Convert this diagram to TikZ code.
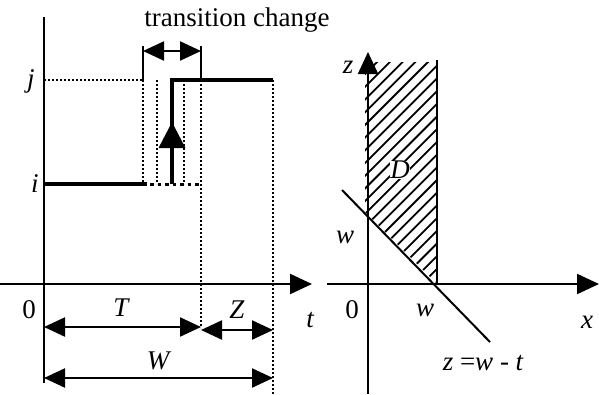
\documentclass[tikz,border=0pt]{standalone}
\usepackage{fontspec}
\setmainfont{Liberation Serif}
\usetikzlibrary{arrows.meta}
\begin{document}
\begin{tikzpicture}[x=1pt,y=-1pt,
  lbl/.style={font=\fontsize{27}{32}\selectfont, inner sep=1pt},
  axis/.style={line width=2.2pt},
  big/.style={-{Triangle[length=22pt,width=20pt]}},
  dbl/.style={{Triangle[length=21pt,width=19pt]}-{Triangle[length=21pt,width=19pt]}, line width=2.2pt},
  dots/.style={line width=2pt, dash pattern=on 2pt off 2pt},
  thickln/.style={line width=4pt}]
\useasboundingbox (0,0) rectangle (599,394);
% ---------------- left diagram ----------------
\coordinate (o) at (44,284);
\coordinate (ytop) at (44,17);
\coordinate (ybot) at (44,383);
\coordinate (tl) at (0,284);
\coordinate (tr) at (312,284);
\draw[axis] (ytop) -- (ybot);
\draw[axis,big] (tl) -- (tr);
% levels
\coordinate (i0) at (44,184);
\coordinate (i1) at (147,184);
\coordinate (i2) at (150,184);
\coordinate (i3) at (201,184);
\coordinate (j0) at (44,80);
\coordinate (j1) at (143,80);
\coordinate (s0) at (172,184);
\coordinate (s1) at (172,80);
\coordinate (s2) at (273,80);
\draw[thickln] (i0) -- (i1);
\draw[dots, line width=3pt, dash pattern=on 3.5pt off 4pt] (i2) -- (i3);
\draw[dots] (j0) -- (j1);
\draw[thickln] (s0) -- (s1) -- (s2);
% up arrow
\coordinate (ab) at (172,150);
\coordinate (at) at (172,122);
\draw[line width=3.5pt, -{Triangle[length=26pt,width=26pt]}] (ab) -- (at);
% dotted verticals
\coordinate (d1t) at (143,80);  \coordinate (d1b) at (143,184);
\coordinate (d2t) at (157,80);  \coordinate (d2b) at (157,184);
\coordinate (d3t) at (184,80);  \coordinate (d3b) at (184,184);
\coordinate (d4t) at (201,80);  \coordinate (d4b) at (201,328);
\coordinate (d5t) at (273,80);  \coordinate (d5b) at (273,394);
\foreach \n in {1,...,5} \draw[dots] (d\n t) -- (d\n b);
% transition change
\coordinate (c1t) at (143,46);
\coordinate (c2t) at (201,46);
\coordinate (c1) at (143,51);
\coordinate (c2) at (201,51);
\draw[line width=1.8pt] (c1t) -- (d1t);
\draw[line width=1.8pt] (c2t) -- (d4t);
\draw[dbl] (c1) -- (c2);
\node[lbl] (tc) at (237,20) {transition change};
% labels
\node[lbl] (lj) at (31,81) {\itshape j};
\node[lbl] (li) at (35,184) {\itshape i};
\node[lbl] (l0) at (29,310) {0};
\node[lbl] (lt) at (310,320) {\itshape t};
% dimension arrows
\coordinate (T0) at (44,327);
\coordinate (T1) at (201,327);
\coordinate (Z0) at (201,330);
\coordinate (Z1) at (273,330);
\coordinate (W0) at (44,378);
\coordinate (W1) at (273,378);
\draw[dbl] (T0) -- (T1);
\draw[dbl] (Z0) -- (Z1);
\draw[dbl] (W0) -- (W1);
\node[lbl] (lT) at (121,308) {\itshape T};
\node[lbl] (lZ) at (237,310) {\itshape Z};
\node[lbl] (lW) at (158,361) {\itshape W};
% ---------------- right diagram ----------------
\coordinate (zb) at (368,394);
\coordinate (zt) at (368,52);
\coordinate (xl) at (327,284);
\coordinate (xr) at (599,284);
\coordinate (wt) at (437,60);
\coordinate (wb) at (437,284);
\coordinate (g0) at (342,190);
\coordinate (g1) at (490,342);
\begin{scope}
\clip (365,62) -- (437,62) -- (437,284) -- (365,212) -- cycle;
\foreach \k in {-17,...,9} {
  \pgfmathsetmacro{\c}{617+12.7*\k}
  \draw[line width=1.8pt] (\c-60,60) -- (300,\c-300);
}
\end{scope}
\draw[axis,big] (zb) -- (zt);
\draw[axis,big] (xl) -- (xr);
\draw[line width=2pt] (wt) -- (wb);
\draw[line width=2pt] (g0) -- (g1);
\node[lbl, fill=white, inner sep=0pt] (lD) at (400,170) {\itshape D};
\node[lbl] (lz) at (348,67) {\itshape z};
\node[lbl] (lw1) at (345,237) {\itshape w};
\node[lbl] (l02) at (352,310) {0};
\node[lbl] (lw2) at (425,310) {\itshape w};
\node[lbl] (lx) at (587,322) {\itshape x};
\node[lbl] (eq) at (483,363) {\itshape z\ \upshape=\itshape w\ \upshape-\ \itshape t};
\end{tikzpicture}
\end{document}
